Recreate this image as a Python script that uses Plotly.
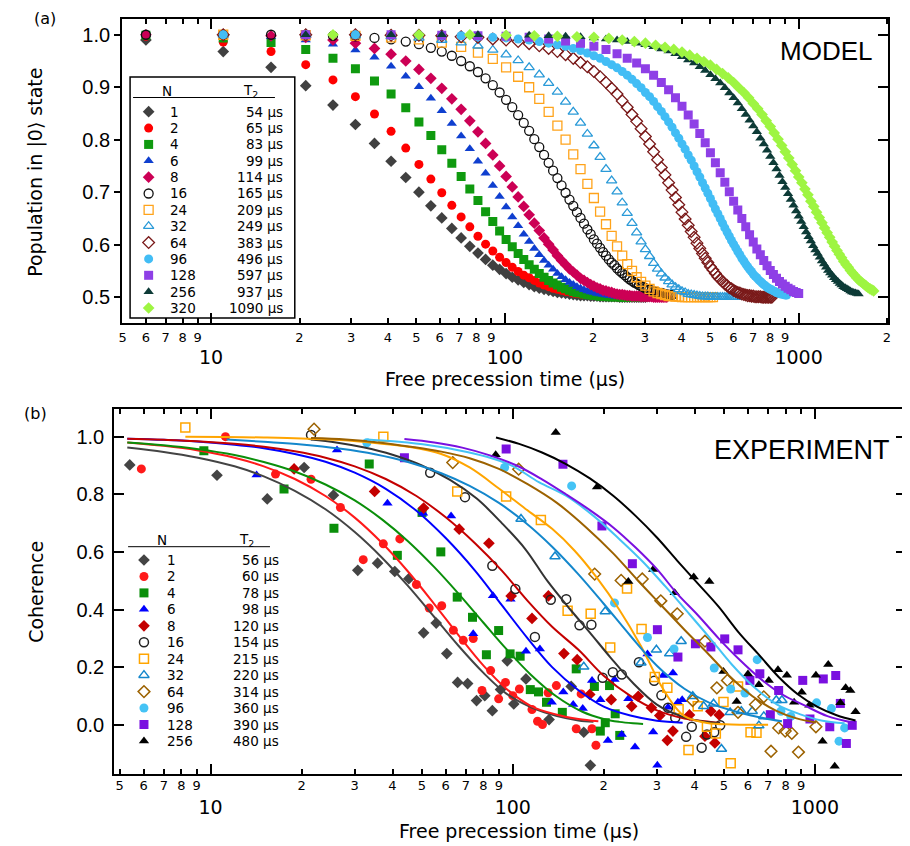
import math
import plotly.graph_objects as go

# ---------------------------------------------------------------- geometry
OX, OY = 8, 8          # default page margin of the html body
W, H = 902, 838
def px(x): return (x - OX) / W
def py(y): return 1 - (y - OY) / H

AX_RANGE = [math.log10(4.98), math.log10(2018)]
AY_RANGE = [0.4514, 1.030]
BX_RANGE = [0.681, 3.3015]
BY_RANGE = [-0.172, 1.096]

# ---------------------------------------------------------------- panel (a) MODEL data
A_N = [1, 2, 4, 6, 8, 16, 24, 32, 64, 96, 128, 256, 320]
A_T2 = [54, 65, 83, 99, 114, 165, 209, 249, 383, 496, 597, 937, 1090]

T5 = [6, 11, 16, 21, 26, 31, 36, 41, 46, 51, 56, 61, 66, 71, 76, 81, 86, 91, 96, 101,
      106, 111, 116, 121, 126, 131, 136, 141, 146, 151, 156, 161, 166, 171, 176, 181, 186, 191, 196, 201,
      206, 211, 216, 221, 226, 231, 236, 241, 246, 251, 256, 261, 266, 271, 276, 281, 286, 291, 296, 301,
      306, 311, 316, 321, 326, 331, 336, 341, 346, 351, 356, 361, 366, 371]
T10 = [11, 21, 31, 41, 51, 61, 71, 81, 91, 101, 111, 121, 131, 141, 151, 161, 171, 181, 191, 201,
       211, 221, 231, 241, 251, 261, 271, 281, 291, 301, 311, 321, 331, 341, 351, 361, 371, 381, 391, 401,
       411, 421, 431, 441, 451, 461, 471, 481, 491, 501, 511, 521, 531, 541, 551, 561, 571, 581, 591, 601,
       611, 621, 631, 641, 651, 661, 671, 681, 691, 701, 711, 721, 731, 741, 751, 761, 771, 781, 791, 801,
       811, 821, 831, 841, 851, 861, 871, 881, 891, 901, 911]
T20 = [21, 41, 61, 81, 101, 121, 141, 161, 181, 201, 221, 241, 261, 281, 301, 321, 341, 361, 381, 401,
       421, 441, 461, 481, 501, 521, 541, 561, 581, 601, 621, 641, 661, 681, 701, 721, 741, 761, 781, 801,
       821, 841, 861, 881, 901, 921, 941, 961, 981, 1001, 1021, 1041, 1061, 1081, 1101, 1121, 1141, 1161, 1181, 1201,
       1221, 1241, 1261, 1281, 1301, 1321, 1341, 1361, 1381, 1401, 1421, 1441, 1461, 1481, 1501, 1521, 1541, 1561, 1581, 1601]
T25 = [26, 51, 76, 101, 126, 151, 176, 201, 226, 251, 276, 301, 326, 351, 376, 401, 426, 451, 476, 501,
       526, 551, 576, 601, 626, 651, 676, 701, 726, 751, 776, 801, 826, 851, 876, 901, 926, 951, 976, 1001,
       1026, 1051, 1076, 1101, 1126, 1151, 1176, 1201, 1226, 1251, 1276, 1301, 1326, 1351, 1376, 1401, 1426, 1451, 1476, 1501,
       1526, 1551, 1576, 1601, 1626, 1651, 1676, 1701, 1726, 1751, 1776, 1801]

A1 = [0.990, 0.968, 0.938, 0.903, 0.866, 0.829, 0.793, 0.759, 0.728, 0.700, 0.674, 0.651, 0.631, 0.613, 0.597,
      0.584, 0.572, 0.561, 0.553, 0.545, 0.538, 0.533, 0.528, 0.524, 0.520, 0.517, 0.515, 0.513, 0.511, 0.509,
      0.508, 0.507, 0.506, 0.505, 0.504, 0.503, 0.503, 0.503, 0.502, 0.502, 0.502, 0.501, 0.501, 0.501, 0.501,
      0.501, 0.501, 0.501, 0.500, 0.500, 0.500, 0.500, 0.500, 0.500, 0.500, 0.500, 0.500, 0.500, 0.500, 0.500]
A2 = [0.997, 0.986, 0.968, 0.943, 0.914, 0.882, 0.849, 0.816, 0.784, 0.753, 0.725, 0.699, 0.675, 0.653, 0.634,
      0.616, 0.601, 0.588, 0.576, 0.566, 0.557, 0.549, 0.542, 0.537, 0.532, 0.527, 0.523, 0.520, 0.517, 0.515,
      0.513, 0.511, 0.510, 0.508, 0.507, 0.506, 0.505, 0.505, 0.504, 0.504, 0.503, 0.503, 0.502, 0.502, 0.502,
      0.502, 0.501, 0.501, 0.501, 0.501, 0.501, 0.501, 0.501, 0.501, 0.500, 0.500]
A4 = [0.999, 0.994, 0.985, 0.972, 0.955, 0.935, 0.912, 0.887, 0.861, 0.834, 0.808, 0.781, 0.755, 0.730, 0.706,
      0.684, 0.663, 0.644, 0.626, 0.610, 0.596, 0.583, 0.572, 0.562, 0.553, 0.545, 0.538, 0.532, 0.527, 0.523,
      0.519, 0.516, 0.513, 0.511, 0.509, 0.508, 0.506, 0.505, 0.504, 0.503, 0.503, 0.502, 0.502, 0.502, 0.501,
      0.501, 0.501, 0.501, 0.501, 0.500, 0.500, 0.500, 0.500, 0.500, 0.500, 0.500, 0.500, 0.500, 0.500, 0.500]
A6 = [1.000, 0.999, 0.996, 0.990, 0.982, 0.971, 0.957, 0.940, 0.921, 0.901, 0.879, 0.855, 0.831, 0.807, 0.783,
      0.759, 0.736, 0.713, 0.692, 0.672, 0.653, 0.636, 0.620, 0.606, 0.593, 0.581, 0.570, 0.561, 0.553, 0.545,
      0.539, 0.533, 0.528, 0.524, 0.520, 0.517, 0.514, 0.512, 0.510, 0.509, 0.507, 0.506, 0.505, 0.504, 0.503,
      0.503, 0.502, 0.502, 0.502, 0.501, 0.501, 0.501, 0.501, 0.501, 0.500, 0.500, 0.500, 0.500, 0.500, 0.500,
      0.500, 0.500, 0.500, 0.500]
A8 = [1.000, 1.000, 0.998, 0.995, 0.990, 0.984, 0.974, 0.963, 0.950, 0.934, 0.917, 0.898, 0.878, 0.858, 0.836,
      0.815, 0.793, 0.771, 0.750, 0.730, 0.710, 0.691, 0.673, 0.657, 0.641, 0.627, 0.613, 0.601, 0.590, 0.579,
      0.570, 0.562, 0.554, 0.548, 0.542, 0.536, 0.532, 0.528, 0.524, 0.521, 0.518, 0.516, 0.513, 0.512, 0.510,
      0.509, 0.507, 0.506, 0.505, 0.505, 0.504, 0.503, 0.503, 0.502, 0.502, 0.502, 0.502, 0.501, 0.501, 0.501,
      0.501, 0.501, 0.501, 0.500, 0.500, 0.500, 0.500, 0.500, 0.500, 0.500, 0.500]
A16 = [1.000, 1.000, 1.000, 0.999, 0.998, 0.997, 0.994, 0.991, 0.987, 0.982, 0.975, 0.968, 0.960, 0.950, 0.940,
       0.929, 0.917, 0.904, 0.890, 0.876, 0.862, 0.847, 0.832, 0.817, 0.801, 0.786, 0.771, 0.756, 0.741, 0.727,
       0.713, 0.699, 0.686, 0.674, 0.662, 0.651, 0.640, 0.629, 0.620, 0.610, 0.602, 0.594, 0.586, 0.579, 0.572,
       0.566, 0.561, 0.555, 0.550, 0.546, 0.542, 0.538, 0.534, 0.531, 0.528, 0.526, 0.523, 0.521, 0.519, 0.517,
       0.515, 0.514, 0.513, 0.511, 0.510, 0.509, 0.508, 0.507, 0.507, 0.506, 0.505, 0.505, 0.504, 0.504]
A24 = [1.000, 0.999, 0.998, 0.995, 0.991, 0.985, 0.977, 0.966, 0.954, 0.938, 0.920, 0.900, 0.878, 0.853, 0.827,
       0.800, 0.772, 0.744, 0.716, 0.689, 0.663, 0.639, 0.617, 0.597, 0.579, 0.563, 0.550, 0.538, 0.529, 0.522,
       0.516, 0.511, 0.508, 0.506, 0.504, 0.502, 0.502, 0.501, 0.501, 0.500, 0.500, 0.500, 0.500, 0.500, 0.500,
       0.500, 0.500, 0.500, 0.500, 0.500, 0.500]
A32 = [1.000, 1.000, 0.999, 0.997, 0.994, 0.990, 0.985, 0.979, 0.971, 0.962, 0.951, 0.938, 0.924, 0.908, 0.891,
       0.872, 0.853, 0.832, 0.811, 0.789, 0.767, 0.744, 0.722, 0.701, 0.680, 0.660, 0.641, 0.623, 0.606, 0.591,
       0.578, 0.565, 0.554, 0.545, 0.537, 0.530, 0.524, 0.519, 0.515, 0.511, 0.509, 0.506, 0.505, 0.504, 0.503,
       0.502, 0.501, 0.501, 0.501, 0.500, 0.500, 0.500, 0.500, 0.500, 0.500, 0.500, 0.500, 0.500, 0.500, 0.500,
       0.500]
A64 = [1.000, 1.000, 1.000, 0.999, 0.999, 0.998, 0.996, 0.995, 0.992, 0.990, 0.987, 0.983, 0.979, 0.974, 0.968,
       0.962, 0.955, 0.947, 0.939, 0.930, 0.920, 0.909, 0.898, 0.887, 0.874, 0.862, 0.848, 0.835, 0.821, 0.806,
       0.792, 0.777, 0.762, 0.747, 0.733, 0.718, 0.704, 0.690, 0.676, 0.662, 0.649, 0.637, 0.625, 0.614, 0.603,
       0.593, 0.583, 0.574, 0.566, 0.558, 0.552, 0.545, 0.539, 0.534, 0.530, 0.525, 0.522, 0.518, 0.516, 0.513,
       0.511, 0.509, 0.508, 0.506, 0.505, 0.504, 0.503, 0.503, 0.502, 0.502, 0.501, 0.501, 0.501, 0.501, 0.500,
       0.500, 0.500, 0.500, 0.500, 0.500, 0.500]
A96 = [1.000, 1.000, 1.000, 0.999, 0.999, 0.998, 0.998, 0.996, 0.995, 0.994, 0.992, 0.990, 0.987, 0.984, 0.981,
       0.978, 0.974, 0.970, 0.965, 0.960, 0.955, 0.949, 0.943, 0.937, 0.930, 0.923, 0.915, 0.907, 0.899, 0.890,
       0.882, 0.873, 0.863, 0.854, 0.844, 0.834, 0.824, 0.813, 0.803, 0.792, 0.782, 0.771, 0.761, 0.750, 0.739,
       0.729, 0.718, 0.708, 0.698, 0.688, 0.678, 0.668, 0.659, 0.650, 0.641, 0.632, 0.624, 0.616, 0.608, 0.601,
       0.594, 0.587, 0.581, 0.574, 0.569, 0.563, 0.558, 0.553, 0.549, 0.544, 0.540, 0.537, 0.533, 0.530, 0.527,
       0.524, 0.522, 0.519, 0.517, 0.515, 0.514, 0.512, 0.511, 0.509, 0.508, 0.507, 0.506, 0.506, 0.505, 0.504,
       0.504]
A128 = [1.000, 1.000, 0.999, 0.998, 0.997, 0.995, 0.992, 0.988, 0.984, 0.978, 0.972, 0.964, 0.955, 0.946, 0.935,
        0.923, 0.909, 0.895, 0.880, 0.864, 0.847, 0.830, 0.812, 0.794, 0.775, 0.756, 0.737, 0.719, 0.701, 0.683,
        0.666, 0.650, 0.634, 0.619, 0.605, 0.592, 0.581, 0.570, 0.560, 0.551, 0.543, 0.536, 0.530, 0.525, 0.521,
        0.517, 0.514, 0.511, 0.509, 0.507]
A256 = [1.000, 1.000, 1.000, 1.000, 0.999, 0.999, 0.998, 0.997, 0.996, 0.994, 0.992, 0.990, 0.987, 0.984, 0.981,
        0.977, 0.973, 0.969, 0.964, 0.958, 0.952, 0.946, 0.939, 0.932, 0.924, 0.916, 0.908, 0.899, 0.889, 0.880,
        0.870, 0.859, 0.848, 0.837, 0.826, 0.815, 0.803, 0.792, 0.780, 0.768, 0.756, 0.744, 0.732, 0.720, 0.709,
        0.697, 0.686, 0.675, 0.664, 0.654, 0.644, 0.634, 0.624, 0.615, 0.607, 0.598, 0.590, 0.583, 0.576, 0.569,
        0.563, 0.557, 0.551, 0.546, 0.542, 0.537, 0.533, 0.530, 0.526, 0.523, 0.520, 0.518, 0.516, 0.514, 0.512,
        0.510, 0.509, 0.508, 0.507, 0.506]
A320 = [1.000, 1.000, 1.000, 0.999, 0.998, 0.997, 0.996, 0.995, 0.993, 0.990, 0.987, 0.984, 0.980, 0.976, 0.972,
        0.967, 0.961, 0.955, 0.949, 0.942, 0.934, 0.926, 0.918, 0.909, 0.899, 0.890, 0.880, 0.869, 0.859, 0.848,
        0.836, 0.825, 0.813, 0.801, 0.789, 0.777, 0.765, 0.753, 0.741, 0.729, 0.718, 0.706, 0.695, 0.683, 0.673,
        0.662, 0.652, 0.642, 0.632, 0.623, 0.614, 0.605, 0.597, 0.589, 0.582, 0.575, 0.568, 0.562, 0.557, 0.551,
        0.546, 0.542, 0.537, 0.533, 0.530, 0.527, 0.524, 0.521, 0.518, 0.516, 0.514, 0.512]

A_T = {1: T5[:60], 2: T5[:56], 4: T5[:60], 6: T5[:64], 8: T5[:71], 16: T5[:74], 24: T10[:51], 32: T10[:61],
       64: T10[:81], 96: T10[:91], 128: T20[:50], 256: T20[:80], 320: T25[:72]}
A_V = {1: A1, 2: A2, 4: A4, 6: A6, 8: A8, 16: A16, 24: A24, 32: A32, 64: A64, 96: A96, 128: A128, 256: A256, 320: A320}

A_SYM = ["diamond", "circle", "square", "triangle-up", "diamond", "circle-open", "square-open",
         "triangle-up-open", "diamond-open", "circle", "square", "triangle-up", "diamond"]
A_COL = ["#404040", "#ff0000", "#0f9a0f", "#0f3fcf", "#cc0055", "#111111", "#ffa31a",
         "#2a9ad8", "#7a1a1a", "#42bdf5", "#8e3fe6", "#0d3b37", "#9ef542"]

# ---------------------------------------------------------------- panel (b) EXPERIMENT data
B_N = [1, 2, 4, 6, 8, 16, 24, 32, 64, 96, 128, 256]
B_T2 = [56, 60, 78, 98, 120, 154, 215, 220, 314, 360, 390, 480]
B_SYM = ["diamond", "circle", "square", "triangle-up", "diamond", "circle-open", "square-open",
         "triangle-up-open", "diamond-open", "circle", "square", "triangle-up"]
B_COL = ["#444444", "#ff1a1a", "#0a8f0a", "#0000ff", "#c40000", "#222222", "#ffa500",
         "#1487cc", "#9c6200", "#45c3f5", "#7a10e0", "#000000"]
B_LCOL = ["#444444", "#ff1a1a", "#0a8f0a", "#0000ff", "#c40000", "#333333", "#ffa500",
          "#1487cc", "#9c6200", "#45c3f5", "#7a10e0", "#000000"]

B_T = {
 1: [5.4, 10.5, 15.4, 20.4, 25.5, 30.7, 35.7, 40.7, 45.3, 50.7, 55.8, 60.5, 65.7, 70.9, 75.9, 80.8, 85.6, 91.1, 95.9, 100.8, 110.6, 131.9, 156.1, 171.8, 180.7],
 2: [5.9, 11.2, 16.4, 21.5, 26.9, 32.0, 37.3, 42.3, 48.0, 52.9, 58.2, 63.6, 68.6, 74.0, 79.1, 84.5, 89.8, 94.6, 100.0, 105.2, 115.8, 120.8, 125.4, 130.9, 139.4, 162.2, 168.4, 182.9, 188.5],
 4: [9.5, 17.5, 25.6, 33.5, 41.5, 50.1, 57.8, 65.5, 73.6, 81.8, 89.8, 98.0, 105.8, 114.3, 121.7, 129.3, 145.9, 162.2, 186.3, 194.9, 202.4, 209.1, 218.3, 226.0],
 6: [14.2, 26.2, 38.5, 50.5, 62.5, 74.0, 86.0, 98.3, 110.6, 123.0, 134.6, 147.0, 158.5, 170.5, 183.0, 195.0, 206.5, 217.2, 229.5, 241.3, 253.9, 279.2, 291.5, 301.0, 314.5, 326.5, 339.0, 352.0, 363.7],
 8: [18.9, 34.9, 50.7, 66.5, 83.4, 98.8, 115.8, 131.2, 147.7, 163.4, 179.8, 211.8, 247.5, 260.3, 287.7, 306.6, 324.8, 339.0, 384.5, 432.6, 452.6, 466.5, 482.3],
 16: [21.5, 53.3, 69.5, 85.6, 102.0, 118.4, 133.6, 150.3, 166.3, 182.1, 198.4, 214.4, 229.5, 261.6, 293.8, 310.4, 326.5, 345.0, 374.8, 391.3, 421.9, 439.2, 464.4, 485.9],
 24: [8.25, 37.3, 65.5, 95.1, 123.9, 151.9, 181.1, 210.2, 238.9, 266.9, 295.3, 324.8, 353.9, 381.6, 409.4, 439.2, 470.0, 498.2, 526.4, 556.6, 612.3, 640.7],
 32: [106.5, 138.0, 171.8, 202.4, 265.6, 298.8, 330.6, 360.9, 394.1, 428.3, 461.9, 490.6, 524.1, 570.8, 620.3, 652.4, 677.4, 745.0, 777.7],
 64: [22.0, 63.3, 104.6, 186.7, 228.4, 268.3, 309.0, 350.2, 394.0, 432.6, 473.6, 513.4, 556.6, 635.8, 677.4, 715.7, 758.6, 797.5, 838.6, 882.1, 1007.7],
 96: [32.9, 94.0, 156.6, 217.2, 279.2, 341.7, 464.4, 526.4, 586.8, 644.1, 771.9, 832.3, 1013.0, 1134.0, 1202.0, 1254.0],
 128: [43.8, 95.1, 146.6, 197.3, 248.8, 301.1, 352.1, 402.3, 452.6, 503.0, 556.6, 609.5, 657.3, 712.0, 758.6, 812.2, 911.5, 962.9, 1066.0, 1120.0, 1172.0, 1214.0, 1271.0, 1329.0],
 256: [87.8, 138.8, 190.0, 241.3, 291.5, 343.4, 397.2, 447.2, 498.2, 551.0, 600.4, 652.4, 703.6, 754.6, 807.7, 853.5, 904.5, 958.5, 1007.7, 1060.0, 1107.0, 1163.0, 1214.0, 1264.0, 1310.0, 1363.0],
}
B_V = {
 1: [0.902, 0.866, 0.784, 0.893, 0.797, 0.536, 0.561, 0.532, 0.507, 0.319, 0.353, 0.247, 0.147, 0.143, 0.084, 0.101, 0.049, 0.122, 0.222, 0.072, 0.159, 0.018, 0.133, -0.026, -0.141],
 2: [0.888, 1.0, 0.87, 0.852, 0.754, 0.573, 0.628, 0.645, 0.487, 0.405, 0.413, 0.328, 0.293, 0.299, 0.119, 0.188, 0.09, 0.147, 0.101, 0.124, 0.053, 0.012, 0.001, 0.111, 0.136, -0.014, 0.107, -0.014, -0.071],
 4: [0.951, 0.818, 0.682, 0.905, 0.588, 0.737, 0.6, 0.443, 0.373, 0.243, 0.327, 0.246, 0.238, 0.122, 0.114, 0.078, 0.043, 0.194, 0.133, -0.022, 0.007, 0.136, 0.038, -0.037],
 6: [0.867, 0.954, 0.769, 0.734, 0.725, 0.316, 0.448, 0.436, 0.255, 0.263, 0.078, 0.114, 0.07, 0.056, 0.154, 0.087, -0.055, 0.157, -0.034, 0.09, -0.077, 0.246, -0.025, -0.141, 0.171, 0.061, 0.18, 0.078, 0.087],
 8: [0.888, 0.81, 0.752, 0.679, 0.63, 0.447, 0.369, 0.447, 0.247, 0.226, 0.105, 0.087, 0.064, 0.099, 0.059, 0.032, -0.054, -0.022, 0.034, -0.04, 0.047, -0.063, 0.034],
 16: [1.006, 0.875, 0.79, 0.552, 0.471, 0.305, 0.434, 0.436, 0.345, 0.347, 0.163, 0.182, 0.174, 0.217, 0.153, 0.102, 0.059, 0.024, -0.042, -0.007, -0.08, -0.034, -0.026, -0.002],
 24: [1.032, 1.0, 0.81, 0.792, 0.711, 0.396, 0.385, 0.268, 0.473, 0.332, 0.166, 0.128, 0.054, -0.088, 0.064, -0.007, -0.03, 0.079, -0.134, 0.133, -0.026, -0.028],
 32: [0.714, 0.584, 0.201, 0.393, 0.215, 0.26, 0.247, 0.29, 0.099, 0.064, 0.073, -0.084, 0.043, 0.047, 0.047, -0.003, 0.029, 0.085, 0.085],
 64: [1.026, 0.91, 0.887, 0.523, 0.501, 0.506, 0.43, 0.385, 0.084, 0.29, 0.128, 0.154, 0.043, 0.07, 0.097, -0.092, -0.011, -0.022, -0.03, -0.095, -0.007],
 96: [0.979, 0.893, 0.829, 0.423, 0.303, 0.263, 0.197, 0.124, 0.11, 0.226, 0.047, 0.029, 0.076, 0.056, -0.057, -0.011],
 128: [0.927, 0.957, 0.904, 0.69, 0.559, 0.33, 0.235, 0.281, 0.27, 0.298, 0.26, 0.154, 0.177, 0.035, 0.119, 0.004, 0.154, 0.02, 0.159, -0.007, 0.171, 0.074, -0.065, -0.002],
 256: [0.937, 1.014, 0.825, 0.497, 0.539, 0.458, 0.513, 0.497, 0.185, 0.081, 0.176, 0.139, 0.154, 0.191, 0.172, 0.078, 0.113, 0.068, 0.172, -0.057, 0.209, -0.144, 0.076, 0.128, 0.119, 0.045],
}

# fitted curves
LT = {
 1: [5.3, 7, 9, 12, 15, 19, 24, 30, 37, 45, 55, 66, 80, 95, 115, 140, 165, 185],
 2: [5.3, 7, 9, 12, 15, 19, 24, 30, 37, 45, 55, 66, 80, 95, 115, 140, 165, 192],
 4: [5.3, 7, 9, 12, 15, 19, 24, 30, 37, 45, 55, 66, 80, 95, 115, 140, 170, 200, 225, 250, 270],
 6: [5.3, 7, 9, 12, 15, 19, 24, 30, 38, 48, 60, 75, 92, 112, 135, 165, 200, 245, 300, 365],
 8: [5.3, 7, 9, 12, 15, 19, 24, 30, 38, 48, 60, 75, 92, 112, 135, 165, 200, 245, 300, 370, 430, 485],
 16: [21.5, 26, 32, 40, 50, 62, 76, 92, 110, 130, 155, 180, 210, 250, 300, 360, 420, 486],
 24: [8.25, 11, 15, 20, 27, 35, 45, 58, 72, 90, 110, 135, 160, 190, 225, 265, 310, 340, 370, 440, 530, 640, 700],
 32: [11.3, 15, 20, 27, 35, 45, 58, 72, 90, 110, 135, 165, 200, 245, 300, 370, 450, 550, 660, 778],
 64: [21.5, 28, 36, 46, 58, 72, 90, 112, 140, 175, 215, 260, 310, 370, 440, 520, 620, 740, 870, 1008],
 96: [33, 42, 53, 66, 82, 100, 122, 150, 185, 225, 270, 320, 380, 450, 530, 630, 750, 890, 1050, 1254],
 128: [43.8, 55, 68, 84, 103, 125, 150, 180, 215, 255, 300, 350, 410, 480, 560, 660, 780, 920, 1100, 1329],
 256: [88, 105, 125, 150, 180, 215, 255, 300, 350, 410, 480, 560, 650, 760, 880, 1020, 1180, 1363],
}
LV = {
 1: [0.962, 0.947, 0.928, 0.897, 0.862, 0.812, 0.748, 0.669, 0.579, 0.482, 0.374, 0.275, 0.180, 0.109, 0.060, 0.030, 0.015, 0.010],
 2: [0.980, 0.968, 0.953, 0.927, 0.897, 0.853, 0.794, 0.719, 0.630, 0.532, 0.419, 0.312, 0.205, 0.126, 0.065, 0.035, 0.020, 0.012],
 4: [0.980, 0.970, 0.957, 0.936, 0.912, 0.879, 0.834, 0.779, 0.712, 0.637, 0.547, 0.456, 0.354, 0.264, 0.173, 0.097, 0.045, 0.020, 0.010, 0.005, 0.003],
 6: [0.993, 0.989, 0.983, 0.972, 0.960, 0.940, 0.913, 0.875, 0.819, 0.743, 0.648, 0.535, 0.415, 0.300, 0.200, 0.120, 0.063, 0.032, 0.014, 0.007],
 8: [0.993, 0.989, 0.984, 0.975, 0.965, 0.949, 0.927, 0.897, 0.853, 0.794, 0.720, 0.630, 0.535, 0.430, 0.340, 0.260, 0.170, 0.100, 0.050, 0.022, 0.012, 0.006],
 16: [0.990, 0.980, 0.963, 0.937, 0.900, 0.850, 0.785, 0.700, 0.610, 0.500, 0.400, 0.320, 0.235, 0.145, 0.070, 0.030, 0.012, 0.005],
 24: [1.000, 0.999, 0.997, 0.994, 0.988, 0.978, 0.965, 0.940, 0.893, 0.820, 0.750, 0.680, 0.605, 0.510, 0.400, 0.275, 0.135, 0.070, 0.030, 0.006, 0.001, 0.000, 0.000],
 32: [0.990, 0.982, 0.973, 0.958, 0.939, 0.912, 0.873, 0.829, 0.770, 0.702, 0.618, 0.522, 0.420, 0.309, 0.205, 0.125, 0.075, 0.045, 0.025, 0.012],
 64: [0.995, 0.990, 0.980, 0.965, 0.948, 0.925, 0.888, 0.835, 0.770, 0.685, 0.595, 0.500, 0.415, 0.330, 0.250, 0.170, 0.100, 0.050, 0.022, 0.008],
 96: [0.990, 0.982, 0.970, 0.953, 0.930, 0.898, 0.842, 0.795, 0.725, 0.645, 0.565, 0.480, 0.390, 0.300, 0.210, 0.130, 0.070, 0.037, 0.015, 0.005],
 128: [0.992, 0.980, 0.962, 0.935, 0.900, 0.852, 0.800, 0.745, 0.685, 0.615, 0.540, 0.455, 0.380, 0.300, 0.228, 0.160, 0.105, 0.068, 0.030, 0.008],
 256: [0.997, 0.975, 0.945, 0.905, 0.855, 0.795, 0.725, 0.650, 0.570, 0.490, 0.410, 0.320, 0.245, 0.165, 0.105, 0.062, 0.033, 0.015],
}

# ---------------------------------------------------------------- figure
fig = go.Figure()
for i, n in enumerate(A_N):
    op = "open" in A_SYM[i]
    fig.add_trace(go.Scatter(x=A_T[n], y=A_V[n], mode="markers", xaxis="x", yaxis="y",
                             marker=dict(symbol=A_SYM[i], size=9, color=A_COL[i],
                                         line=dict(width=1.3 if op else 0, color=A_COL[i])),
                             showlegend=False, hoverinfo="skip"))
for i, n in enumerate(B_N):
    op = "open" in B_SYM[i]
    fig.add_trace(go.Scatter(x=B_T[n], y=B_V[n], mode="markers", xaxis="x2", yaxis="y2",
                             marker=dict(symbol=B_SYM[i], size=9, color=B_COL[i],
                                         line=dict(width=1.5 if op else 0, color=B_COL[i])),
                             showlegend=False, hoverinfo="skip"))
for i, n in enumerate(B_N):
    fig.add_trace(go.Scatter(x=LT[n], y=LV[n], mode="lines", xaxis="x2", yaxis="y2",
                             line=dict(color=B_LCOL[i], width=2, shape="spline"),
                             showlegend=False, hoverinfo="skip"))

# invisible anchors for the overlay axes
fig.add_trace(go.Scatter(x=[10], y=[2], xaxis="x3", yaxis="y", mode="markers", marker=dict(opacity=0), showlegend=False, hoverinfo="skip"))
fig.add_trace(go.Scatter(x=[10], y=[2], xaxis="x4", yaxis="y2", mode="markers", marker=dict(opacity=0), showlegend=False, hoverinfo="skip"))
fig.add_trace(go.Scatter(x=[10], y=[2], xaxis="x", yaxis="y3", mode="markers", marker=dict(opacity=0), showlegend=False, hoverinfo="skip"))

# legend tables (pixel coordinates of the page)
LA_X, LA_Y0, LA_DY = 145.7, 111.7, 16.36
LB_X, LB_Y0, LB_DY = 141, 560, 16.45
for i, n in enumerate(A_N):
    op = "open" in A_SYM[i]
    fig.add_trace(go.Scatter(x=[LA_X], y=[LA_Y0 + LA_DY * i], xaxis="x9", yaxis="y9", mode="markers",
                             marker=dict(symbol=A_SYM[i], size=9, color=A_COL[i],
                                         line=dict(width=1.3 if op else 0, color=A_COL[i])),
                             showlegend=False, hoverinfo="skip", cliponaxis=False))
for i, n in enumerate(B_N):
    op = "open" in B_SYM[i]
    fig.add_trace(go.Scatter(x=[LB_X], y=[LB_Y0 + LB_DY * i], xaxis="x9", yaxis="y9", mode="markers",
                             marker=dict(symbol=B_SYM[i], size=9, color=B_COL[i],
                                         line=dict(width=1.5 if op else 0, color=B_COL[i])),
                             showlegend=False, hoverinfo="skip", cliponaxis=False))

def A(x, y, text, font, xa="center", ya="middle", angle=0):
    return dict(x=px(x), y=py(y), xref="paper", yref="paper", text=text, xanchor=xa, yanchor=ya,
                textangle=angle, showarrow=False, font=font)

LF = dict(family="DejaVu Sans", size=13.5, color="black")
ann = []
for i, n in enumerate(A_N):
    y = LA_Y0 + LA_DY * i
    ann.append(A(165, y, str(n), LF, xa="left"))
    ann.append(A(283, y, "%d µs" % A_T2[i], LF, xa="right"))
for i, n in enumerate(B_N):
    y = LB_Y0 + LB_DY * i
    ann.append(A(162, y, str(n), LF, xa="left"))
    ann.append(A(279, y, "%d µs" % B_T2[i], LF, xa="right"))
BIG = dict(family="DejaVu Sans", size=19, color="black")
ann += [
    A(164, 91, "N", LF), A(248, 91, "T<sub>2</sub>", LF),
    A(159, 540, "N", LF), A(244, 540, "T<sub>2</sub>", LF),
    A(41, 19, "(a)", dict(family="DejaVu Sans", size=16, color="black")),
    A(32, 414, "(b)", dict(family="DejaVu Sans", size=16, color="black")),
    A(828, 51, "MODEL", dict(family="Liberation Sans", size=26, color="black")),
    A(804, 450, "EXPERIMENT", dict(family="Liberation Sans", size=27, color="black")),
    A(31, 172, "Population in |0⟩ state", BIG, angle=-90),
    A(32, 592, "Coherence", BIG, angle=-90),
    A(505, 379, "Free precession time (µs)", BIG),
    A(519, 831, "Free precession time (µs)", BIG),
]

shapes = [
    dict(type="rect", xref="paper", yref="paper", x0=px(127), x1=px(293), y0=py(318), y1=py(77),
         line=dict(color="black", width=1.5), fillcolor="white", layer="below"),
    dict(type="line", xref="paper", yref="paper", x0=px(130), x1=px(273), y0=py(97.5), y1=py(97.5), line=dict(color="black", width=1)),
    dict(type="line", xref="paper", yref="paper", x0=px(125), x1=px(268), y0=py(546.7), y1=py(546.7), line=dict(color="black", width=1)),
]

MINOR = [5, 6, 7, 8, 9, 20, 30, 40, 50, 60, 70, 80, 90, 200, 300, 400, 500, 600, 700, 800, 900, 2000]
MINOR_TXT = ["5", "6", "7", "8", "9", "2", "3", "4", "5", "6", "7", "8", "9", "2", "3", "4", "5", "6", "7", "8", "9", "2"]
DEC = [10, 100, 1000]
DEC_TXT = ["10", "100", "1000"]

def xmain(dom, anchor, rng, stand):
    return dict(domain=dom, anchor=anchor, type="log", range=rng, tickmode="array", tickvals=DEC, ticktext=DEC_TXT,
                ticks="inside", ticklen=10, tickwidth=1.5, tickcolor="black", mirror="ticks", showline=True,
                linewidth=2, linecolor="black", showgrid=False, zeroline=False,
                tickfont=dict(family="DejaVu Sans", size=19, color="black"), ticklabelstandoff=stand)
def xminor(over, anchor, rng, stand):
    return dict(overlaying=over, anchor=anchor, side="bottom", type="log", range=rng, tickmode="array",
                tickvals=MINOR, ticktext=MINOR_TXT, ticks="inside", ticklen=5, tickwidth=1.5, tickcolor="black",
                mirror="ticks", showline=False, showgrid=False, zeroline=False,
                tickfont=dict(family="DejaVu Sans", size=13, color="black"), ticklabelstandoff=stand)

fig.update_layout(
    width=W, height=H, autosize=False, margin=dict(l=0, r=0, t=0, b=0),
    paper_bgcolor="white", plot_bgcolor="rgba(0,0,0,0)",
    xaxis=xmain([px(119), px(891)], "y", AX_RANGE, 16),
    xaxis3=xminor("x", "y", AX_RANGE, 5),
    xaxis2=xmain([px(111), px(909)], "y2", BX_RANGE, 15),
    xaxis4=xminor("x2", "y2", BX_RANGE, 2),
    yaxis=dict(domain=[py(322.7), py(19)], anchor="x", range=AY_RANGE, tickmode="array",
               tickvals=[0.5, 0.6, 0.7, 0.8, 0.9, 1.0], ticktext=["0.5", "0.6", "0.7", "0.8", "0.9", "1.0"],
               ticks="outside", ticklen=6, tickwidth=1.5, tickcolor="black", mirror=True, showline=True,
               linewidth=2, linecolor="black", showgrid=False, zeroline=False,
               tickfont=dict(family="Liberation Sans", size=20, color="black"), ticklabelstandoff=0),
    yaxis3=dict(overlaying="y", anchor="x", side="right", range=AY_RANGE, tickmode="array",
                tickvals=[0.5, 0.6, 0.7, 0.8, 0.9, 1.0], ticks="inside", ticklen=10, tickwidth=1.5, tickcolor="black",
                showticklabels=False, showline=False, showgrid=False, zeroline=False),
    yaxis2=dict(domain=[py(774.3), py(409)], anchor="x2", range=BY_RANGE, tickmode="array",
                tickvals=[0, 0.2, 0.4, 0.6, 0.8, 1.0], ticktext=["0.0", "0.2", "0.4", "0.6", "0.8", "1.0"],
                ticks="inside", ticklen=10, tickwidth=1.5, tickcolor="black", mirror="ticks", showline=True,
                linewidth=2, linecolor="black", showgrid=False, zeroline=False,
                tickfont=dict(family="Liberation Sans", size=20, color="black"), ticklabelstandoff=4),
    xaxis9=dict(domain=[0, 1], anchor="y9", range=[OX, OX + W], visible=False),
    yaxis9=dict(domain=[0, 1], anchor="x9", range=[OY + H, OY], visible=False),
    annotations=ann, shapes=shapes,
)
fig.write_html("out.html")
